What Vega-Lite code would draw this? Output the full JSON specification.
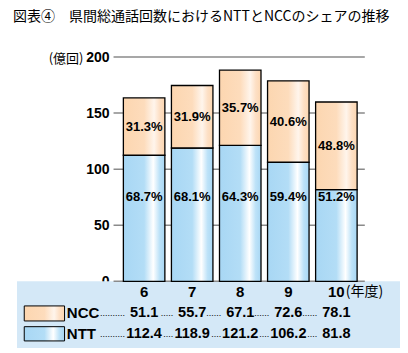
{
  "$schema": "https://vega.github.io/schema/vega-lite/v6.json",
  "width": 383,
  "height": 291,
  "autosize": "none",
  "padding": {"left": 17, "top": 57, "right": 8, "bottom": 5},
  "background": "white",
  "title": {
    "text": "図表④　県間総通話回数におけるNTTとNCCのシェアの推移",
    "anchor": "start",
    "frame": "group",
    "font": "Noto Sans CJK JP",
    "fontSize": 14,
    "fontWeight": "normal",
    "color": "black",
    "dx": -4,
    "offset": 26
  },
  "data": {
    "values": [
      {"year": 6, "series": "NTT", "value": 112.4, "share": 68.7},
      {"year": 6, "series": "NCC", "value": 51.1, "share": 31.3},
      {"year": 7, "series": "NTT", "value": 118.9, "share": 68.1},
      {"year": 7, "series": "NCC", "value": 55.7, "share": 31.9},
      {"year": 8, "series": "NTT", "value": 121.2, "share": 64.3},
      {"year": 8, "series": "NCC", "value": 67.1, "share": 35.7},
      {"year": 9, "series": "NTT", "value": 106.2, "share": 59.4},
      {"year": 9, "series": "NCC", "value": 72.6, "share": 40.6},
      {"year": 10, "series": "NTT", "value": 81.8, "share": 51.2},
      {"year": 10, "series": "NCC", "value": 78.1, "share": 48.8}
    ]
  },
  "transform": [
    {"stack": "value", "groupby": ["year"], "sort": [{"field": "series", "order": "descending"}], "as": ["v0", "v1"]},
    {"calculate": "datum.series === 'NTT' ? 74.8 : (datum.v0 + datum.v1) / 2", "as": "labpos"},
    {"calculate": "format(datum.share, '.1f') + '%'", "as": "pct"},
    {"calculate": "datum.series === 'NCC' ? -28.6 : -46.9", "as": "rowy"},
    {"calculate": "datum.series === 'NCC' ? -31.3 : -49.6", "as": "doty"},
    {"calculate": "datum.year === 6 ? '..........' : (datum.series === 'NCC' ? (datum.year === 7 ? '.....' : '......') : '....')", "as": "dots"}
  ],
  "layer": [
    {
      "data": {"values": [{"panel": 1}]},
      "mark": {"type": "rect", "fill": "#d4e8f7"},
      "encoding": {
        "x": {"value": 0},
        "x2": {"value": "width"},
        "y": {"datum": 0, "type": "quantitative", "title": "(億回)"},
        "y2": {"value": "height"}
      }
    },
    {
      "data": {"values": [{"tick": 0}, {"tick": 50}, {"tick": 100}, {"tick": 150}, {"tick": 200}]},
      "mark": {"type": "rule", "color": "#8a8a8a", "strokeWidth": 1.5},
      "encoding": {
        "y": {
          "field": "tick", "type": "quantitative", "title": "(億回)",
          "scale": {"domain": [-59.4, 200], "nice": false, "zero": false},
          "axis": {"values": [0, 50, 100, 150, 200], "title": "(億回)"}
        },
        "x": {"datum": 5.3637, "type": "quantitative", "scale": {"domain": [3.459, 11.22], "nice": false, "zero": false}, "axis": null},
        "x2": {"datum": 10.5917}
      }
    },
    {
      "transform": [{"filter": "datum.series === 'NTT'"}],
      "mark": {
        "type": "bar", "width": 41.5, "stroke": "black", "strokeWidth": 1.3,
        "fill": {"gradient": "linear", "x1": 0, "x2": 1, "y1": 0, "y2": 0,
          "stops": [
            {"offset": 0, "color": "#a8d7f4"},
            {"offset": 0.5, "color": "#b3ddf6"},
            {"offset": 0.72, "color": "#ffffff"},
            {"offset": 0.87, "color": "#bde2f8"},
            {"offset": 1, "color": "#a8d7f4"}
          ]}
      },
      "encoding": {
        "x": {"field": "year", "type": "quantitative", "axis": null},
        "y": {"field": "v1", "type": "quantitative", "title": "(億回)"},
        "y2": {"field": "v0"}
      }
    },
    {
      "transform": [{"filter": "datum.series === 'NCC'"}],
      "mark": {
        "type": "bar", "width": 41.5, "stroke": "black", "strokeWidth": 1.3,
        "fill": {"gradient": "linear", "x1": 0, "x2": 1, "y1": 0, "y2": 0,
          "stops": [
            {"offset": 0, "color": "#fcd6b0"},
            {"offset": 0.5, "color": "#fddcbc"},
            {"offset": 0.74, "color": "#fff5ec"},
            {"offset": 0.87, "color": "#fde0c6"},
            {"offset": 1, "color": "#fcd6b0"}
          ]}
      },
      "encoding": {
        "x": {"field": "year", "type": "quantitative", "axis": null},
        "y": {"field": "v1", "type": "quantitative", "title": "(億回)"},
        "y2": {"field": "v0"}
      }
    },
    {
      "mark": {"type": "text", "font": "Liberation Sans", "fontSize": 13, "fontWeight": "bold", "color": "black", "baseline": "middle"},
      "encoding": {
        "x": {"field": "year", "type": "quantitative", "axis": null},
        "y": {"field": "labpos", "type": "quantitative", "title": "(億回)"},
        "text": {"field": "pct"}
      }
    },
    {
      "transform": [{"filter": "datum.series === 'NTT'"}],
      "mark": {"type": "text", "font": "Liberation Sans", "fontSize": 15, "fontWeight": "bold", "color": "black", "baseline": "middle"},
      "encoding": {
        "x": {"field": "year", "type": "quantitative", "axis": null},
        "y": {"datum": -9.2, "type": "quantitative", "title": "(億回)"},
        "text": {"field": "year", "type": "quantitative"}
      }
    },
    {
      "transform": [{"filter": "datum.series === 'NTT' && datum.year === 10"}],
      "mark": {"type": "text", "font": "Noto Sans CJK JP", "fontSize": 14, "fontWeight": "normal", "color": "black", "baseline": "middle", "align": "left", "dx": 9.5},
      "encoding": {
        "x": {"field": "year", "type": "quantitative", "axis": null},
        "y": {"datum": -9.2, "type": "quantitative", "title": "(億回)"},
        "text": {"value": "(年度)"}
      }
    },
    {
      "mark": {"type": "text", "font": "Liberation Sans", "fontSize": 14.5, "fontWeight": "bold", "color": "black", "baseline": "middle"},
      "encoding": {
        "x": {"field": "year", "type": "quantitative", "axis": null},
        "y": {"field": "rowy", "type": "quantitative", "title": "(億回)"},
        "text": {"field": "value", "type": "quantitative", "format": ".1f"}
      }
    },
    {
      "mark": {"type": "text", "font": "Liberation Sans", "fontSize": 9, "color": "black", "baseline": "alphabetic", "align": "right", "dx": -19},
      "encoding": {
        "x": {"field": "year", "type": "quantitative", "axis": null},
        "y": {"field": "doty", "type": "quantitative", "title": "(億回)"},
        "text": {"field": "dots"}
      }
    },
    {
      "transform": [{"filter": "datum.year === 6"}],
      "mark": {"type": "text", "font": "Liberation Sans", "fontSize": 15, "fontWeight": "bold", "color": "black", "baseline": "middle", "align": "left"},
      "encoding": {
        "x": {"datum": 4.391, "type": "quantitative", "axis": null},
        "y": {"field": "rowy", "type": "quantitative", "title": "(億回)"},
        "text": {"field": "series"}
      }
    },
    {
      "transform": [{"filter": "datum.year === 6 && datum.series === 'NCC'"}],
      "mark": {
        "type": "rect", "stroke": "black", "strokeWidth": 1,
        "fill": {"gradient": "linear", "x1": 0, "x2": 1, "y1": 0, "y2": 0,
          "stops": [
            {"offset": 0, "color": "#fcd6b0"},
            {"offset": 0.5, "color": "#fddcbc"},
            {"offset": 0.74, "color": "#fff5ec"},
            {"offset": 0.87, "color": "#fde0c6"},
            {"offset": 1, "color": "#fcd6b0"}
          ]}
      },
      "encoding": {
        "x": {"datum": 3.5056, "type": "quantitative", "axis": null},
        "x2": {"datum": 4.3445},
        "y": {"datum": -21.9, "type": "quantitative", "title": "(億回)"},
        "y2": {"datum": -35.3}
      }
    },
    {
      "transform": [{"filter": "datum.year === 6 && datum.series === 'NTT'"}],
      "mark": {
        "type": "rect", "stroke": "black", "strokeWidth": 1,
        "fill": {"gradient": "linear", "x1": 0, "x2": 1, "y1": 0, "y2": 0,
          "stops": [
            {"offset": 0, "color": "#a8d7f4"},
            {"offset": 0.5, "color": "#b3ddf6"},
            {"offset": 0.72, "color": "#ffffff"},
            {"offset": 0.87, "color": "#bde2f8"},
            {"offset": 1, "color": "#a8d7f4"}
          ]}
      },
      "encoding": {
        "x": {"datum": 3.5056, "type": "quantitative", "axis": null},
        "x2": {"datum": 4.3445},
        "y": {"datum": -40.4, "type": "quantitative", "title": "(億回)"},
        "y2": {"datum": -53.1}
      }
    }
  ],
  "config": {
    "view": {"stroke": null},
    "axisY": {
      "offset": -94,
      "zindex": 1,
      "domain": false,
      "ticks": false,
      "grid": false,
      "labelFont": "Liberation Sans",
      "labelFontSize": 14,
      "labelFontWeight": "bold",
      "labelColor": "black",
      "labelPadding": 2,
      "labelBaseline": "middle",
      "titleAngle": 0,
      "titleX": -28,
      "titleY": 1,
      "titleAlign": "right",
      "titleBaseline": "middle",
      "titleFont": "Noto Sans CJK JP",
      "titleFontSize": 13,
      "titleFontWeight": "normal",
      "titleColor": "black"
    }
  }
}
